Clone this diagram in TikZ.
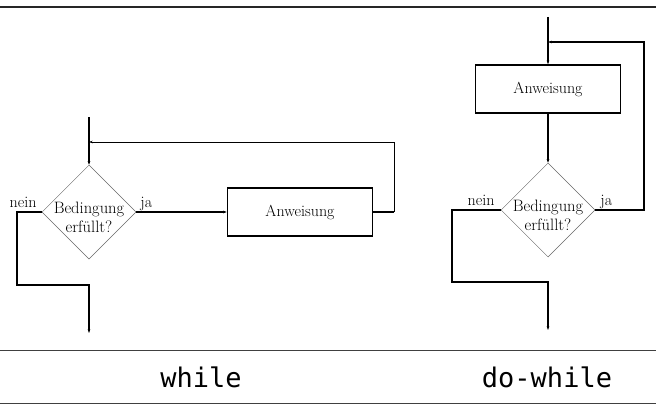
\documentclass[tikz,border=0pt]{standalone}
\usepackage{fontspec}
\newfontfamily\codefont{DejaVu Sans Mono}
\usetikzlibrary{shapes.geometric,arrows.meta}
\tikzset{
  flow/.style={line width=1.5pt},
  back/.style={line width=0.8pt},
  tip/.style={-{Stealth[length=3.5pt,width=2.5pt]}},
  cond/.style={diamond, draw=black!60, line width=0.5pt, minimum width=94pt, minimum height=94pt, inner sep=0pt},
  condtext/.style={align=center, font=\fontsize{16.5}{19}\selectfont},
  stmt/.style={rectangle, draw, line width=1.5pt, minimum width=145pt, minimum height=48pt, font=\fontsize{16}{19}\selectfont},
  lbl/.style={font=\fontsize{16}{19}\selectfont, inner sep=0pt},
  caption/.style={font=\fontsize{27}{32}\selectfont\codefont},
  rulefine/.style={draw=black!75, line width=1pt},
}
\begin{document}
\begin{tikzpicture}[x=1pt,y=-1pt]
  \useasboundingbox (0,0) rectangle (656,404);
  % table rules
  \draw[draw=black!85, line width=2pt] (0,7) -- (656,7);
  \draw[rulefine] (0,350) -- (656,350);
  \draw[rulefine] (0,403) -- (656,403);

  % while
  \coordinate (inW) at (89,117);
  \coordinate (backW) at (394,142);
  \coordinate (neinW) at (17,285);
  \coordinate (outW) at (89,333);
  \node[cond] (condW) at (89,212) {};
  \node[condtext] (condWtxt) at ([yshift=-5pt]condW.center) {Bedingung\\erfüllt?};
  \node[stmt] (bodyW) at (300,212) {Anweisung};
  \node[lbl, anchor=base west] (jaW) at ([xshift=4pt,yshift=5pt]condW.east) {ja};
  \node[lbl, anchor=base east] (neinWl) at ([xshift=-5pt,yshift=5pt]condW.west) {nein};
  \draw[flow,tip] (inW) -- (condW.north);
  \draw[flow,tip] (condW.east) -- (bodyW.west);
  \draw[flow] (bodyW.east) -- (bodyW.east -| backW) coordinate (turnW);
  \draw[back,tip] (turnW) -- (backW) -- (backW -| inW);
  \draw[flow,tip] (condW.west) -| (neinW) -| (outW);

  % do-while
  \coordinate (inD) at (548,17);
  \coordinate (backD) at (644,42);
  \coordinate (neinD) at (452,282);
  \coordinate (outD) at (548,330);
  \node[stmt] (bodyD) at (548,89) {Anweisung};
  \node[cond] (condD) at (548,210) {};
  \node[condtext] (condDtxt) at ([yshift=-5pt]condD.center) {Bedingung\\erfüllt?};
  \node[lbl, anchor=base west] (jaD) at ([xshift=5pt,yshift=5pt]condD.east) {ja};
  \node[lbl, anchor=base east] (neinDl) at ([xshift=-6pt,yshift=5pt]condD.west) {nein};
  \draw[flow,tip] (inD) -- (bodyD.north);
  \draw[flow,tip] (bodyD.south) -- (condD.north);
  \draw[flow,tip] (condD.east) -| (backD) -- (backD -| inD);
  \draw[flow,tip] (condD.west) -| (neinD) -| (outD);

  % captions
  \node[caption] (capW) at (201,377) {while};
  \node[caption] (capD) at (547,377) {do-while};
\end{tikzpicture}
\end{document}
